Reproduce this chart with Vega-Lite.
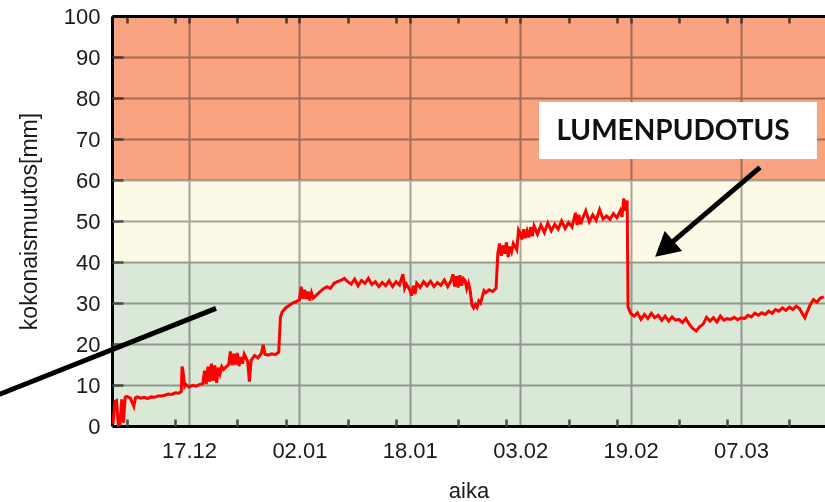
{
  "$schema": "https://vega.github.io/schema/vega-lite/v6.json",
  "width": 713,
  "height": 410,
  "autosize": {"type": "none"},
  "padding": {"left": 112, "top": 16, "right": 0, "bottom": 76},
  "background": "white",
  "config": {"view": {"stroke": null}, "font": "Liberation Sans"},
  "datasets": {
    "bands": [
      {"lo": 0, "hi": 40, "zone": "low"},
      {"lo": 40, "hi": 60, "zone": "mid"},
      {"lo": 60, "hi": 100, "zone": "high"}
    ],
    "series": [
      {"t": "2014-12-06T00:00", "v": 0.5},
      {"t": "2014-12-06T06:00", "v": 6.0},
      {"t": "2014-12-06T12:00", "v": 6.2},
      {"t": "2014-12-06T18:00", "v": 0.3},
      {"t": "2014-12-07T00:00", "v": 0.4},
      {"t": "2014-12-07T06:00", "v": 6.5},
      {"t": "2014-12-07T12:00", "v": 0.8},
      {"t": "2014-12-07T18:00", "v": 7.0},
      {"t": "2014-12-08T00:00", "v": 7.2},
      {"t": "2014-12-08T12:00", "v": 6.8},
      {"t": "2014-12-09T00:00", "v": 4.8},
      {"t": "2014-12-09T06:00", "v": 6.9},
      {"t": "2014-12-09T12:00", "v": 7.1},
      {"t": "2014-12-10T00:00", "v": 6.8},
      {"t": "2014-12-10T12:00", "v": 7.0},
      {"t": "2014-12-11T00:00", "v": 6.7},
      {"t": "2014-12-11T12:00", "v": 7.1},
      {"t": "2014-12-12T00:00", "v": 7.0},
      {"t": "2014-12-12T12:00", "v": 7.3},
      {"t": "2014-12-13T00:00", "v": 7.3},
      {"t": "2014-12-13T12:00", "v": 7.5},
      {"t": "2014-12-14T00:00", "v": 7.8},
      {"t": "2014-12-14T12:00", "v": 7.7},
      {"t": "2014-12-15T00:00", "v": 8.1},
      {"t": "2014-12-15T12:00", "v": 8.0},
      {"t": "2014-12-15T21:00", "v": 8.4},
      {"t": "2014-12-16T00:00", "v": 14.5},
      {"t": "2014-12-16T03:00", "v": 13.5},
      {"t": "2014-12-16T09:00", "v": 9.8},
      {"t": "2014-12-16T12:00", "v": 10.2},
      {"t": "2014-12-17T00:00", "v": 9.5},
      {"t": "2014-12-17T12:00", "v": 9.9},
      {"t": "2014-12-18T00:00", "v": 9.7},
      {"t": "2014-12-18T12:00", "v": 10.1},
      {"t": "2014-12-19T00:00", "v": 10.3},
      {"t": "2014-12-19T06:00", "v": 13.5},
      {"t": "2014-12-19T12:00", "v": 10.2},
      {"t": "2014-12-19T18:00", "v": 14.5},
      {"t": "2014-12-20T00:00", "v": 10.8},
      {"t": "2014-12-20T06:00", "v": 15.2},
      {"t": "2014-12-20T12:00", "v": 11.0},
      {"t": "2014-12-20T18:00", "v": 14.8},
      {"t": "2014-12-21T00:00", "v": 10.5},
      {"t": "2014-12-21T06:00", "v": 14.2},
      {"t": "2014-12-21T12:00", "v": 12.8},
      {"t": "2014-12-21T18:00", "v": 14.5},
      {"t": "2014-12-22T00:00", "v": 13.8},
      {"t": "2014-12-22T12:00", "v": 14.6},
      {"t": "2014-12-22T18:00", "v": 15.0},
      {"t": "2014-12-23T00:00", "v": 18.2},
      {"t": "2014-12-23T06:00", "v": 14.8},
      {"t": "2014-12-23T12:00", "v": 17.6},
      {"t": "2014-12-23T18:00", "v": 15.0},
      {"t": "2014-12-24T00:00", "v": 17.8},
      {"t": "2014-12-24T06:00", "v": 14.6},
      {"t": "2014-12-24T12:00", "v": 16.8},
      {"t": "2014-12-24T18:00", "v": 15.2},
      {"t": "2014-12-25T00:00", "v": 17.5},
      {"t": "2014-12-25T12:00", "v": 15.8},
      {"t": "2014-12-25T18:00", "v": 10.8},
      {"t": "2014-12-26T00:00", "v": 16.0},
      {"t": "2014-12-26T12:00", "v": 17.2},
      {"t": "2014-12-27T00:00", "v": 16.6},
      {"t": "2014-12-27T12:00", "v": 17.8},
      {"t": "2014-12-27T18:00", "v": 19.8},
      {"t": "2014-12-28T00:00", "v": 17.5},
      {"t": "2014-12-28T12:00", "v": 17.3},
      {"t": "2014-12-29T00:00", "v": 17.6},
      {"t": "2014-12-29T12:00", "v": 17.4},
      {"t": "2014-12-30T00:00", "v": 18.0},
      {"t": "2014-12-30T06:00", "v": 26.5},
      {"t": "2014-12-30T12:00", "v": 27.8},
      {"t": "2014-12-31T00:00", "v": 28.8},
      {"t": "2014-12-31T12:00", "v": 29.4},
      {"t": "2015-01-01T00:00", "v": 30.0},
      {"t": "2015-01-01T12:00", "v": 30.3},
      {"t": "2015-01-02T00:00", "v": 30.8},
      {"t": "2015-01-02T06:00", "v": 34.0},
      {"t": "2015-01-02T12:00", "v": 31.0},
      {"t": "2015-01-02T18:00", "v": 33.2},
      {"t": "2015-01-03T00:00", "v": 31.0},
      {"t": "2015-01-03T06:00", "v": 32.8},
      {"t": "2015-01-03T12:00", "v": 30.6},
      {"t": "2015-01-03T18:00", "v": 32.5},
      {"t": "2015-01-04T00:00", "v": 31.2},
      {"t": "2015-01-04T12:00", "v": 32.0},
      {"t": "2015-01-05T00:00", "v": 32.8},
      {"t": "2015-01-05T12:00", "v": 33.5},
      {"t": "2015-01-06T00:00", "v": 34.0},
      {"t": "2015-01-06T12:00", "v": 33.6},
      {"t": "2015-01-07T00:00", "v": 34.8},
      {"t": "2015-01-07T12:00", "v": 35.2},
      {"t": "2015-01-08T00:00", "v": 35.5},
      {"t": "2015-01-08T12:00", "v": 36.0},
      {"t": "2015-01-09T00:00", "v": 35.2},
      {"t": "2015-01-09T12:00", "v": 34.6},
      {"t": "2015-01-10T00:00", "v": 35.8},
      {"t": "2015-01-10T12:00", "v": 34.2},
      {"t": "2015-01-11T00:00", "v": 35.5},
      {"t": "2015-01-11T12:00", "v": 34.8},
      {"t": "2015-01-12T00:00", "v": 36.0},
      {"t": "2015-01-12T12:00", "v": 34.5},
      {"t": "2015-01-13T00:00", "v": 35.2},
      {"t": "2015-01-13T12:00", "v": 34.0},
      {"t": "2015-01-14T00:00", "v": 35.0},
      {"t": "2015-01-14T12:00", "v": 34.2},
      {"t": "2015-01-15T00:00", "v": 35.4},
      {"t": "2015-01-15T12:00", "v": 34.0},
      {"t": "2015-01-16T00:00", "v": 35.2},
      {"t": "2015-01-16T12:00", "v": 34.4},
      {"t": "2015-01-17T00:00", "v": 37.0},
      {"t": "2015-01-17T06:00", "v": 33.6},
      {"t": "2015-01-17T12:00", "v": 34.6},
      {"t": "2015-01-18T00:00", "v": 33.2},
      {"t": "2015-01-18T06:00", "v": 31.8},
      {"t": "2015-01-18T12:00", "v": 34.2},
      {"t": "2015-01-18T18:00", "v": 32.2},
      {"t": "2015-01-19T00:00", "v": 34.8},
      {"t": "2015-01-19T12:00", "v": 33.8},
      {"t": "2015-01-20T00:00", "v": 35.2},
      {"t": "2015-01-20T12:00", "v": 34.2},
      {"t": "2015-01-21T00:00", "v": 35.3},
      {"t": "2015-01-21T12:00", "v": 34.0},
      {"t": "2015-01-22T00:00", "v": 35.0},
      {"t": "2015-01-22T12:00", "v": 34.3},
      {"t": "2015-01-23T00:00", "v": 35.6},
      {"t": "2015-01-23T12:00", "v": 34.0},
      {"t": "2015-01-24T00:00", "v": 35.5},
      {"t": "2015-01-24T06:00", "v": 37.0},
      {"t": "2015-01-24T12:00", "v": 34.0},
      {"t": "2015-01-24T18:00", "v": 36.5},
      {"t": "2015-01-25T00:00", "v": 33.8},
      {"t": "2015-01-25T06:00", "v": 36.8},
      {"t": "2015-01-25T12:00", "v": 34.2},
      {"t": "2015-01-25T18:00", "v": 36.0},
      {"t": "2015-01-26T00:00", "v": 35.5},
      {"t": "2015-01-26T06:00", "v": 33.5},
      {"t": "2015-01-26T12:00", "v": 34.8},
      {"t": "2015-01-26T18:00", "v": 33.0},
      {"t": "2015-01-27T00:00", "v": 29.5},
      {"t": "2015-01-27T06:00", "v": 28.8},
      {"t": "2015-01-27T12:00", "v": 29.6},
      {"t": "2015-01-27T18:00", "v": 28.9},
      {"t": "2015-01-28T00:00", "v": 30.5},
      {"t": "2015-01-28T06:00", "v": 30.0},
      {"t": "2015-01-28T12:00", "v": 31.5},
      {"t": "2015-01-28T18:00", "v": 33.0},
      {"t": "2015-01-29T00:00", "v": 32.5},
      {"t": "2015-01-29T12:00", "v": 33.2},
      {"t": "2015-01-30T00:00", "v": 32.8},
      {"t": "2015-01-30T12:00", "v": 33.6},
      {"t": "2015-01-30T18:00", "v": 42.0},
      {"t": "2015-01-31T00:00", "v": 44.5},
      {"t": "2015-01-31T06:00", "v": 41.5},
      {"t": "2015-01-31T12:00", "v": 44.0},
      {"t": "2015-01-31T18:00", "v": 42.0},
      {"t": "2015-02-01T00:00", "v": 44.8},
      {"t": "2015-02-01T06:00", "v": 41.2},
      {"t": "2015-02-01T12:00", "v": 43.8},
      {"t": "2015-02-01T18:00", "v": 42.5},
      {"t": "2015-02-02T00:00", "v": 44.5},
      {"t": "2015-02-02T12:00", "v": 43.0},
      {"t": "2015-02-02T18:00", "v": 47.8},
      {"t": "2015-02-03T00:00", "v": 47.0},
      {"t": "2015-02-03T06:00", "v": 45.5},
      {"t": "2015-02-03T12:00", "v": 48.0},
      {"t": "2015-02-03T18:00", "v": 45.8},
      {"t": "2015-02-04T00:00", "v": 47.5},
      {"t": "2015-02-04T06:00", "v": 46.0},
      {"t": "2015-02-04T12:00", "v": 48.5},
      {"t": "2015-02-04T18:00", "v": 46.3},
      {"t": "2015-02-05T00:00", "v": 48.8},
      {"t": "2015-02-05T12:00", "v": 46.8},
      {"t": "2015-02-06T00:00", "v": 49.0},
      {"t": "2015-02-06T12:00", "v": 47.2},
      {"t": "2015-02-07T00:00", "v": 49.5},
      {"t": "2015-02-07T12:00", "v": 47.6},
      {"t": "2015-02-08T00:00", "v": 49.2},
      {"t": "2015-02-08T12:00", "v": 48.0},
      {"t": "2015-02-09T00:00", "v": 50.0},
      {"t": "2015-02-09T12:00", "v": 48.2},
      {"t": "2015-02-10T00:00", "v": 49.6},
      {"t": "2015-02-10T12:00", "v": 48.5},
      {"t": "2015-02-11T00:00", "v": 52.0},
      {"t": "2015-02-11T06:00", "v": 49.0},
      {"t": "2015-02-11T12:00", "v": 51.5},
      {"t": "2015-02-11T18:00", "v": 49.2},
      {"t": "2015-02-12T00:00", "v": 50.5},
      {"t": "2015-02-12T12:00", "v": 52.5},
      {"t": "2015-02-13T00:00", "v": 49.8},
      {"t": "2015-02-13T12:00", "v": 51.5},
      {"t": "2015-02-14T00:00", "v": 50.2},
      {"t": "2015-02-14T12:00", "v": 52.8},
      {"t": "2015-02-15T00:00", "v": 50.5},
      {"t": "2015-02-15T12:00", "v": 51.2},
      {"t": "2015-02-16T00:00", "v": 50.4},
      {"t": "2015-02-16T12:00", "v": 51.8},
      {"t": "2015-02-17T00:00", "v": 50.8},
      {"t": "2015-02-17T12:00", "v": 52.5},
      {"t": "2015-02-17T18:00", "v": 51.0},
      {"t": "2015-02-18T00:00", "v": 55.5},
      {"t": "2015-02-18T06:00", "v": 52.5},
      {"t": "2015-02-18T12:00", "v": 55.0},
      {"t": "2015-02-18T15:00", "v": 29.0},
      {"t": "2015-02-18T18:00", "v": 28.5},
      {"t": "2015-02-19T00:00", "v": 27.5},
      {"t": "2015-02-19T12:00", "v": 26.8},
      {"t": "2015-02-20T00:00", "v": 27.6},
      {"t": "2015-02-20T12:00", "v": 26.0},
      {"t": "2015-02-21T00:00", "v": 27.2},
      {"t": "2015-02-21T12:00", "v": 26.2},
      {"t": "2015-02-22T00:00", "v": 27.5},
      {"t": "2015-02-22T12:00", "v": 26.4},
      {"t": "2015-02-23T00:00", "v": 27.0},
      {"t": "2015-02-23T12:00", "v": 25.8},
      {"t": "2015-02-24T00:00", "v": 26.8},
      {"t": "2015-02-24T12:00", "v": 25.6},
      {"t": "2015-02-25T00:00", "v": 26.6},
      {"t": "2015-02-25T12:00", "v": 25.8},
      {"t": "2015-02-26T00:00", "v": 26.0},
      {"t": "2015-02-26T12:00", "v": 25.2},
      {"t": "2015-02-27T00:00", "v": 26.2},
      {"t": "2015-02-27T12:00", "v": 24.8},
      {"t": "2015-02-28T00:00", "v": 23.8},
      {"t": "2015-02-28T12:00", "v": 23.2},
      {"t": "2015-03-01T00:00", "v": 24.2},
      {"t": "2015-03-01T12:00", "v": 24.8},
      {"t": "2015-03-02T00:00", "v": 26.5},
      {"t": "2015-03-02T12:00", "v": 25.6},
      {"t": "2015-03-03T00:00", "v": 26.4},
      {"t": "2015-03-03T12:00", "v": 25.4},
      {"t": "2015-03-04T00:00", "v": 26.8},
      {"t": "2015-03-04T12:00", "v": 25.8},
      {"t": "2015-03-05T00:00", "v": 26.2},
      {"t": "2015-03-05T12:00", "v": 26.0},
      {"t": "2015-03-06T00:00", "v": 26.5},
      {"t": "2015-03-06T12:00", "v": 25.9},
      {"t": "2015-03-07T00:00", "v": 26.4},
      {"t": "2015-03-07T12:00", "v": 26.2},
      {"t": "2015-03-08T00:00", "v": 27.0},
      {"t": "2015-03-08T12:00", "v": 26.6},
      {"t": "2015-03-09T00:00", "v": 27.5},
      {"t": "2015-03-09T12:00", "v": 27.0},
      {"t": "2015-03-10T00:00", "v": 27.6},
      {"t": "2015-03-10T12:00", "v": 27.2},
      {"t": "2015-03-11T00:00", "v": 28.0},
      {"t": "2015-03-11T12:00", "v": 27.5},
      {"t": "2015-03-12T00:00", "v": 28.4},
      {"t": "2015-03-12T12:00", "v": 28.0},
      {"t": "2015-03-13T00:00", "v": 28.8},
      {"t": "2015-03-13T12:00", "v": 28.2},
      {"t": "2015-03-14T00:00", "v": 29.0},
      {"t": "2015-03-14T12:00", "v": 28.4},
      {"t": "2015-03-15T00:00", "v": 29.2},
      {"t": "2015-03-15T12:00", "v": 28.6},
      {"t": "2015-03-16T00:00", "v": 27.0},
      {"t": "2015-03-16T06:00", "v": 26.4},
      {"t": "2015-03-16T12:00", "v": 27.5},
      {"t": "2015-03-17T00:00", "v": 29.5},
      {"t": "2015-03-17T12:00", "v": 30.8},
      {"t": "2015-03-18T00:00", "v": 30.2},
      {"t": "2015-03-18T12:00", "v": 31.2},
      {"t": "2015-03-19T00:00", "v": 31.5}
    ],
    "arrows": [
      {"t": "2014-12-20T22:00", "v": 28.7, "t2": "2014-11-18T04:00", "v2": 6.8},
      {"t": "2015-03-09T18:00", "v": 63.1, "t2": "2015-02-23T21:00", "v2": 43.2}
    ],
    "heads": [{"t": "2015-02-23T21:00", "v": 43.2}],
    "notes": [
      {"t": "2015-02-05T17:20", "t2": "2015-03-18T00:00", "v": 79.0, "v2": 65.1, "tc": "2015-02-25T03:20", "vc": 71.8, "text": "LUMENPUDOTUS"}
    ]
  },
  "resolve": {"axis": {"x": "independent", "y": "independent"}},
  "layer": [
    {
      "data": {"name": "bands"},
      "mark": {"type": "rect", "blend": "multiply"},
      "encoding": {
        "x": {"value": 0},
        "x2": {"value": "width"},
        "y": {"field": "lo", "type": "quantitative", "scale": {"domain": [0, 100], "nice": false}, "axis": null},
        "y2": {"field": "hi"},
        "color": {"field": "zone", "type": "nominal", "scale": {"domain": ["low", "mid", "high"], "range": ["#d9e8d7", "#fcf9e6", "#f9a380"]}, "legend": null}
      }
    },
    {
      "data": {"name": "series"},
      "mark": {"type": "line", "color": "#ff0000", "strokeWidth": 3, "strokeJoin": "miter"},
      "encoding": {
        "x": {
          "field": "t", "type": "temporal",
          "scale": {"domain": [{"year": 2014, "month": 12, "date": 5, "hours": 20, "minutes": 10}, {"year": 2015, "month": 3, "date": 19, "hours": 4, "minutes": 0}], "nice": false},
          "axis": {
            "orient": "bottom",
            "values": [
              {"year": 2014, "month": 12, "date": 17},
              {"year": 2015, "month": 1, "date": 2},
              {"year": 2015, "month": 1, "date": 18},
              {"year": 2015, "month": 2, "date": 3},
              {"year": 2015, "month": 2, "date": 19},
              {"year": 2015, "month": 3, "date": 7}
            ],
            "format": "%d.%m",
            "ticks": false,
            "grid": true, "gridColor": "#a8a8a8", "gridWidth": 2,
            "domain": true, "domainColor": "#000", "domainWidth": 3,
            "labelFontSize": 22, "labelColor": "#1a1a1a", "labelPadding": 14,
            "title": "aika", "titleFontSize": 22, "titleFontWeight": "normal", "titleColor": "#1a1a1a",
            "titleY": 64, "titleBaseline": "middle"
          }
        },
        "y": {
          "field": "v", "type": "quantitative",
          "scale": {"domain": [0, 100], "nice": false},
          "axis": {
            "orient": "left",
            "values": [0, 10, 20, 30, 40, 50, 60, 70, 80, 90, 100],
            "ticks": false,
            "grid": true, "gridColor": "#a8a8a8", "gridWidth": 2,
            "domain": true, "domainColor": "#000", "domainWidth": 3,
            "labelFontSize": 22, "labelColor": "#1a1a1a", "labelPadding": 12,
            "title": "kokonaismuutos[mm]", "titleFontSize": 23, "titleFontWeight": "normal", "titleColor": "#1a1a1a",
            "titleX": -83, "titleY": 205, "titleAngle": -90, "titleAlign": "center", "titleBaseline": "middle"
          }
        }
      }
    },
    {
      "data": {"name": "notes"},
      "mark": {"type": "rect", "fill": "white"},
      "encoding": {
        "x": {"field": "t", "type": "temporal", "scale": {"domain": [{"year": 2014, "month": 12, "date": 5, "hours": 20, "minutes": 10}, {"year": 2015, "month": 3, "date": 19, "hours": 4, "minutes": 0}], "nice": false}, "axis": null},
        "x2": {"field": "t2"},
        "y": {
          "field": "v", "type": "quantitative", "scale": {"domain": [0, 100], "nice": false},
          "axis": {
            "orient": "left",
            "values": [10, 20, 30, 40, 50, 60, 70, 80, 90],
            "labels": false, "domain": false, "grid": false,
            "ticks": true, "tickSize": -11, "tickWidth": 2.5, "tickColor": "#555",
            "title": null
          }
        },
        "y2": {"field": "v2"}
      }
    },
    {
      "data": {"name": "notes"},
      "mark": {"type": "text", "font": "Lato", "fontWeight": "bold", "fontSize": 28, "color": "#111", "align": "center", "baseline": "middle"},
      "encoding": {
        "x": {"field": "tc", "type": "temporal", "scale": {"domain": [{"year": 2014, "month": 12, "date": 5, "hours": 20, "minutes": 10}, {"year": 2015, "month": 3, "date": 19, "hours": 4, "minutes": 0}], "nice": false}, "axis": null},
        "y": {"field": "vc", "type": "quantitative", "scale": {"domain": [0, 100], "nice": false}, "axis": null},
        "text": {"field": "text"}
      }
    },
    {
      "data": {"name": "arrows"},
      "mark": {"type": "rule", "color": "#000", "strokeWidth": 5},
      "encoding": {
        "x": {
          "field": "t", "type": "temporal",
          "scale": {"domain": [{"year": 2014, "month": 12, "date": 5, "hours": 20, "minutes": 10}, {"year": 2015, "month": 3, "date": 19, "hours": 4, "minutes": 0}], "nice": false},
          "axis": {
            "orient": "top",
            "values": [
              {"year": 2014, "month": 12, "date": 8},
              {"year": 2014, "month": 12, "date": 15},
              {"year": 2014, "month": 12, "date": 17},
              {"year": 2014, "month": 12, "date": 24},
              {"year": 2014, "month": 12, "date": 31},
              {"year": 2015, "month": 1, "date": 2},
              {"year": 2015, "month": 1, "date": 9},
              {"year": 2015, "month": 1, "date": 16},
              {"year": 2015, "month": 1, "date": 18},
              {"year": 2015, "month": 1, "date": 25},
              {"year": 2015, "month": 2, "date": 1},
              {"year": 2015, "month": 2, "date": 3},
              {"year": 2015, "month": 2, "date": 10},
              {"year": 2015, "month": 2, "date": 17},
              {"year": 2015, "month": 2, "date": 19},
              {"year": 2015, "month": 2, "date": 26},
              {"year": 2015, "month": 3, "date": 5},
              {"year": 2015, "month": 3, "date": 7},
              {"year": 2015, "month": 3, "date": 14}
            ],
            "labels": false, "grid": false,
            "domain": true, "domainColor": "#000", "domainWidth": 3,
            "ticks": true, "tickSize": -7, "tickWidth": 2.5, "tickColor": "#555",
            "title": null
          }
        },
        "x2": {"field": "t2"},
        "y": {"field": "v", "type": "quantitative", "scale": {"domain": [0, 100], "nice": false}, "axis": null},
        "y2": {"field": "v2"}
      }
    },
    {
      "data": {"name": "heads"},
      "mark": {"type": "point", "shape": "M0,-1L1.1,1L-1.1,1Z", "filled": true, "color": "#000", "opacity": 1, "size": 586, "angle": 229},
      "encoding": {
        "x": {
          "field": "t", "type": "temporal",
          "scale": {"domain": [{"year": 2014, "month": 12, "date": 5, "hours": 20, "minutes": 10}, {"year": 2015, "month": 3, "date": 19, "hours": 4, "minutes": 0}], "nice": false},
          "axis": {
            "orient": "bottom",
            "values": [
              {"year": 2014, "month": 12, "date": 8},
              {"year": 2014, "month": 12, "date": 15},
              {"year": 2014, "month": 12, "date": 24},
              {"year": 2014, "month": 12, "date": 31},
              {"year": 2015, "month": 1, "date": 9},
              {"year": 2015, "month": 1, "date": 16},
              {"year": 2015, "month": 1, "date": 25},
              {"year": 2015, "month": 2, "date": 1},
              {"year": 2015, "month": 2, "date": 10},
              {"year": 2015, "month": 2, "date": 17},
              {"year": 2015, "month": 2, "date": 26},
              {"year": 2015, "month": 3, "date": 5},
              {"year": 2015, "month": 3, "date": 14}
            ],
            "labels": false, "grid": false, "domain": false,
            "ticks": true, "tickSize": -7, "tickWidth": 2.5, "tickColor": "#555",
            "title": null
          }
        },
        "y": {"field": "v", "type": "quantitative", "scale": {"domain": [0, 100], "nice": false}, "axis": null}
      }
    }
  ]
}
